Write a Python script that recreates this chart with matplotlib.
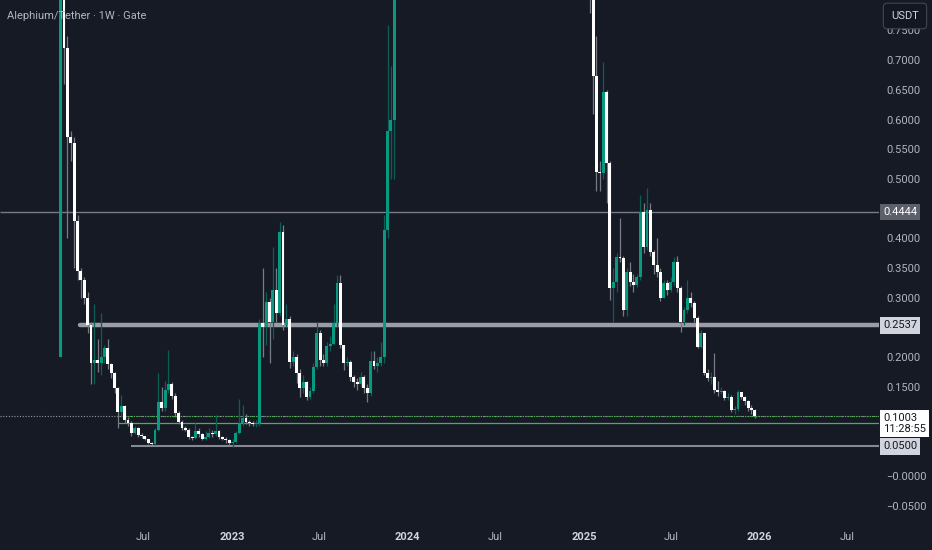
import matplotlib
matplotlib.use("Agg")
import matplotlib.pyplot as plt
import matplotlib.dates as mdates
import matplotlib.transforms as mtransforms
import numpy as np
import pandas as pd

plt.rcParams['font.family'] = ['Roboto', 'DejaVu Sans']

# Weekly ALPH/USDT candles (Gate), first candle is the week of 2022-01-10
first_week = "2022-01-10"
first_open = 0.20

closes = [
    1.40, 0.72, 0.57, 0.56, 0.43, 0.345, 0.33, 0.30, 0.255, 0.19,           # 0
    0.195, 0.19, 0.20, 0.215, 0.188, 0.173, 0.148, 0.108, 0.118, 0.095,     # 10
    0.089, 0.072, 0.080, 0.069, 0.067, 0.062, 0.056, 0.054, 0.077, 0.125,   # 20
    0.115, 0.145, 0.155, 0.135, 0.106, 0.091, 0.081, 0.078, 0.066, 0.064,   # 30
    0.075, 0.070, 0.063, 0.066, 0.072, 0.070, 0.076, 0.066, 0.063, 0.060,   # 40
    0.055, 0.058, 0.072, 0.089, 0.098, 0.091, 0.089, 0.087, 0.090, 0.257,   # 50
    0.250, 0.293, 0.260, 0.313, 0.274, 0.411, 0.254, 0.265, 0.192, 0.200,   # 60
    0.173, 0.148, 0.158, 0.133, 0.143, 0.184, 0.240, 0.195, 0.190, 0.218,   # 70
    0.222, 0.257, 0.325, 0.220, 0.190, 0.192, 0.167, 0.158, 0.155, 0.167,   # 80
    0.148, 0.139, 0.193, 0.185, 0.190, 0.200, 0.414, 0.580, 0.600, 1.10,    # 90
    1.60, 1.85, 2.10, 2.40, 2.70, 2.55, 2.90, 2.60, 2.35, 2.20,             # 100
    2.45, 2.80, 3.20, 3.60, 3.30, 2.90, 2.60, 2.30, 2.45, 2.25,             # 110
    2.10, 2.30, 2.15, 1.95, 1.80, 1.70, 1.55, 1.65, 1.50, 1.35,             # 120
    1.15, 1.25, 1.30, 1.20, 1.10, 1.05, 1.15, 1.25, 1.20, 1.35,             # 130
    1.30, 1.45, 1.70, 1.95, 2.25, 2.60, 2.40, 2.75, 2.55, 2.30,             # 140
    2.45, 2.20, 1.95, 1.75, 1.60, 1.45, 1.25, 1.00, 0.673, 0.512,           # 150
    0.510, 0.646, 0.527, 0.316, 0.327, 0.369, 0.367, 0.279, 0.344, 0.327,   # 160
    0.322, 0.335, 0.444, 0.386, 0.448, 0.377, 0.355, 0.344, 0.300, 0.325,   # 170
    0.313, 0.327, 0.360, 0.316, 0.260, 0.279, 0.300, 0.291, 0.266, 0.217,   # 180
    0.240, 0.173, 0.165, 0.167, 0.145, 0.141, 0.143, 0.131, 0.133, 0.111,   # 190
    0.113, 0.141, 0.133, 0.126, 0.114, 0.111, 0.1003,                       # 200
]

highs = [
    1.60, 1.45, 0.74, 0.58, 0.57, 0.44, 0.35, 0.335, 0.31, 0.26,
    0.29, 0.23, 0.275, 0.22, 0.23, 0.19, 0.175, 0.15, 0.136, 0.12,
    0.10, 0.092, 0.085, 0.082, 0.072, 0.068, 0.063, 0.058, 0.08, 0.173,
    0.15, 0.16, 0.212, 0.158, 0.14, 0.11, 0.095, 0.085, 0.08, 0.068,
    0.09, 0.08, 0.072, 0.075, 0.08, 0.078, 0.103, 0.078, 0.068, 0.065,
    0.062, 0.062, 0.075, 0.13, 0.12, 0.105, 0.095, 0.092, 0.094, 0.265,
    0.35, 0.31, 0.30, 0.386, 0.35, 0.428, 0.423, 0.29, 0.27, 0.21,
    0.205, 0.18, 0.17, 0.16, 0.15, 0.19, 0.26, 0.245, 0.205, 0.225,
    0.235, 0.29, 0.338, 0.338, 0.22, 0.20, 0.195, 0.17, 0.165, 0.175,
    0.17, 0.155, 0.21, 0.21, 0.20, 0.225, 0.44, 0.76, 0.69, 1.25,
    1.75, 2.00, 2.30, 2.55, 2.95, 2.85, 3.05, 2.95, 2.65, 2.45,
    2.55, 2.90, 3.35, 3.80, 3.70, 3.35, 2.95, 2.70, 2.55, 2.50,
    2.30, 2.40, 2.35, 2.20, 2.00, 1.85, 1.75, 1.70, 1.70, 1.55,
    1.40, 1.30, 1.35, 1.35, 1.25, 1.15, 1.20, 1.30, 1.30, 1.40,
    1.42, 1.50, 1.75, 2.05, 2.40, 2.75, 2.70, 2.90, 2.85, 2.60,
    2.55, 2.50, 2.25, 2.00, 1.80, 1.65, 1.50, 1.30, 1.05, 0.74,
    0.53, 0.697, 0.65, 0.53, 0.35, 0.375, 0.434, 0.37, 0.35, 0.36,
    0.34, 0.34, 0.473, 0.46, 0.485, 0.46, 0.38, 0.40, 0.35, 0.33,
    0.33, 0.335, 0.369, 0.37, 0.32, 0.285, 0.33, 0.31, 0.295, 0.27,
    0.245, 0.24, 0.18, 0.175, 0.207, 0.16, 0.15, 0.145, 0.14, 0.137,
    0.118, 0.145, 0.142, 0.135, 0.128, 0.12, 0.113,
]

lows = [
    0.20, 0.66, 0.40, 0.53, 0.35, 0.33, 0.30, 0.29, 0.24, 0.155,
    0.155, 0.175, 0.17, 0.19, 0.18, 0.165, 0.14, 0.08, 0.10, 0.09,
    0.085, 0.068, 0.07, 0.066, 0.064, 0.06, 0.054, 0.052, 0.052, 0.075,
    0.11, 0.11, 0.14, 0.13, 0.10, 0.088, 0.078, 0.075, 0.062, 0.06,
    0.062, 0.066, 0.06, 0.06, 0.064, 0.066, 0.068, 0.062, 0.06, 0.056,
    0.052, 0.048, 0.056, 0.07, 0.085, 0.088, 0.085, 0.084, 0.083, 0.085,
    0.20, 0.22, 0.19, 0.23, 0.26, 0.27, 0.245, 0.25, 0.182, 0.185,
    0.157, 0.133, 0.14, 0.128, 0.13, 0.14, 0.18, 0.185, 0.186, 0.185,
    0.21, 0.22, 0.25, 0.215, 0.178, 0.185, 0.16, 0.15, 0.145, 0.15,
    0.14, 0.125, 0.135, 0.18, 0.175, 0.185, 0.19, 0.40, 0.50, 0.50,
    1.05, 1.50, 1.75, 2.00, 2.30, 2.40, 2.50, 2.45, 2.20, 2.05,
    2.15, 2.40, 2.75, 3.10, 3.15, 2.75, 2.40, 2.10, 2.20, 2.10,
    1.95, 2.05, 2.00, 1.85, 1.70, 1.60, 1.45, 1.50, 1.40, 1.25,
    0.95, 1.10, 1.20, 1.15, 1.02, 0.98, 1.00, 1.10, 1.15, 1.18,
    1.25, 1.28, 1.40, 1.65, 1.90, 2.20, 2.30, 2.35, 2.45, 2.20,
    2.25, 2.10, 1.85, 1.65, 1.50, 1.35, 1.15, 0.78, 0.61, 0.48,
    0.48, 0.50, 0.46, 0.296, 0.26, 0.31, 0.36, 0.27, 0.27, 0.32,
    0.31, 0.318, 0.33, 0.375, 0.38, 0.37, 0.34, 0.335, 0.295, 0.30,
    0.305, 0.31, 0.32, 0.31, 0.243, 0.255, 0.275, 0.285, 0.26, 0.215,
    0.215, 0.17, 0.16, 0.155, 0.14, 0.135, 0.138, 0.128, 0.128, 0.108,
    0.105, 0.11, 0.13, 0.12, 0.11, 0.105, 0.098,
]

# drawn horizontal levels
level_top = 0.4444
level_mid = 0.2537
level_low = 0.0500
green_zone = [0.089, 0.1003]
last_price = 0.1003
countdown = "11:28:55"

# axis ticks
price_ticks = [0.75, 0.70, 0.65, 0.60, 0.55, 0.50, 0.40, 0.35, 0.30, 0.20, 0.15, 0.0, -0.05]
price_tick_labels = ["0.7500", "0.7000", "0.6500", "0.6000", "0.5500", "0.5000", "0.4000",
                     "0.3500", "0.3000", "0.2000", "0.1500", "\u22120.0000", "\u22120.0500"]
time_ticks = ["2022-07-01", "2023-01-01", "2023-07-01", "2024-01-01", "2024-07-01",
              "2025-01-01", "2025-07-01", "2026-01-01", "2026-07-01"]
time_tick_labels = ["Jul", "2023", "Jul", "2024", "Jul", "2025", "Jul", "2026", "Jul"]

BG = "#161a25"
UP = "#089981"
UP_WICK = "#0b5f55"
DOWN = "#ffffff"
DOWN_WICK = "#787b86"
TXT = "#b2b5be"

W, H = 932, 550
fig = plt.figure(figsize=(W / 100, H / 100), dpi=100, facecolor=BG)
ax = fig.add_axes([0, 25 / H, 879 / W, 525 / H])
ax.set_facecolor(BG)
for s in ax.spines.values():
    s.set_visible(False)

weeks = pd.date_range(first_week, periods=len(closes), freq="7D")
x = mdates.date2num(weeks.to_pydatetime())
c = np.array(closes)
hi = np.array(highs)
lo = np.array(lows)
o = np.concatenate([[first_open], c[:-1]])
up = c >= o
dn = ~up

ax.vlines(x[up], lo[up], hi[up], color=UP_WICK, lw=0.9, zorder=2)
ax.vlines(x[dn], lo[dn], hi[dn], color=DOWN_WICK, lw=0.9, zorder=2)
body_bottom = np.minimum(o, c)
body_h = np.maximum(np.abs(c - o), 0.002)
ax.bar(x[up], body_h[up], bottom=body_bottom[up], width=6.0, color=UP, linewidth=0, zorder=3)
ax.bar(x[dn], body_h[dn], bottom=body_bottom[dn], width=6.0, color=DOWN, linewidth=0, zorder=3)

x0 = mdates.date2num(pd.Timestamp("2021-09-06"))
x1 = mdates.date2num(pd.Timestamp("2026-09-06"))
ax.set_xlim(x0, x1)
ax.set_ylim(-0.0825, 0.8013)

# horizontal drawings
ax.hlines(level_top, x0, x1, color="#787b86", lw=1.0, zorder=1)
ax.plot([mdates.date2num(pd.Timestamp("2022-02-19")), x1], [level_mid, level_mid],
        color="#9a9da6", lw=3.2, solid_capstyle="round", zorder=1)
ax.hlines(level_low, mdates.date2num(pd.Timestamp("2022-06-05")), x1, color="#868993", lw=1.5, zorder=1)
ax.hlines(last_price, x0, x1, color="#9598a1", lw=0.8, linestyles=(0, (1, 1.5)), zorder=1)
gx = mdates.date2num(pd.Timestamp("2022-05-09"))
ax.hlines(green_zone[1], gx, x1, color="#4caf50", lw=0.8, linestyles=(0, (1, 1)), zorder=1.5)
ax.hlines(green_zone[0], gx, x1, color="#4caf50", lw=0.9, zorder=1.5)

# axes labels
ax.yaxis.tick_right()
ax.set_yticks(price_ticks)
ax.set_yticklabels(price_tick_labels)
ax.tick_params(axis="y", length=0, pad=5, labelsize=8, colors=TXT)
ax.set_xticks(mdates.date2num(pd.to_datetime(time_ticks).to_pydatetime()))
ax.set_xticklabels(time_tick_labels)
ax.tick_params(axis="x", length=0, pad=5, labelsize=8, colors=TXT)
for lab in ax.get_xticklabels():
    if lab.get_text() != "Jul":
        lab.set_fontweight("bold")
        lab.set_color("#d1d4dc")

# price boxes on the right scale
tr = mtransforms.blended_transform_factory(ax.transAxes, ax.transData)
bx = 1.0 + 4 / 879
ax.text(bx, level_top, "0.4444", transform=tr, ha="left", va="center", fontsize=8,
        color="#ffffff", clip_on=False, zorder=10,
        bbox=dict(boxstyle="square,pad=0.3", fc="#5d606b", ec="none"))
ax.text(bx, level_mid, "0.2537", transform=tr, ha="left", va="center", fontsize=8,
        color="#131722", clip_on=False, zorder=10,
        bbox=dict(boxstyle="square,pad=0.3", fc="#d1d4dc", ec="none"))
ax.text(bx, level_low, "0.0500", transform=tr, ha="left", va="center", fontsize=8,
        color="#131722", clip_on=False, zorder=10,
        bbox=dict(boxstyle="square,pad=0.3", fc="#d1d4dc", ec="none"))
ax.text(bx, 0.0885, "0.1003\n" + countdown, transform=tr, ha="left", va="center", fontsize=8,
        color="#131722", linespacing=1.05, clip_on=False, zorder=10,
        bbox=dict(boxstyle="square,pad=0.3", fc="#ffffff", ec="none"))

# header texts
fig.text(7 / W, 1 - 16 / H, "Alephium/Tether \u00b7 1W \u00b7 Gate", ha="left", va="center",
         fontsize=8, color=TXT)
fig.text(905 / W, 1 - 16 / H, "USDT", ha="center", va="center", fontsize=8, color="#d1d4dc",
         zorder=20, bbox=dict(boxstyle="round,pad=0.7,rounding_size=0.35", fc="#131722", ec="#434651", lw=0.8))

fig.savefig("out.png", dpi=100, facecolor=BG)
